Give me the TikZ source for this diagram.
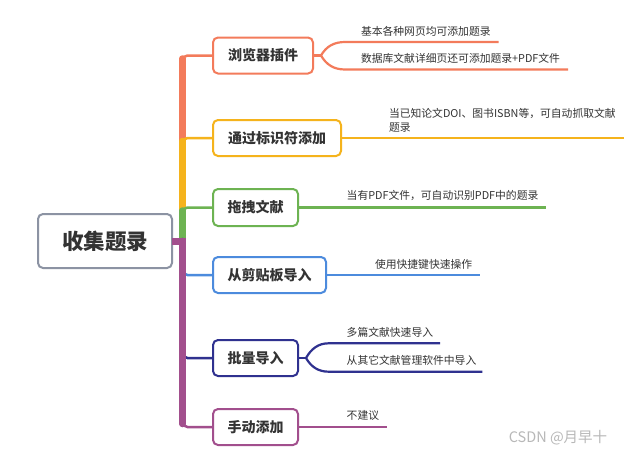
\documentclass[tikz,border=0pt]{standalone}
\usepackage{fontspec}
\setmainfont{Noto Sans CJK SC}
\usetikzlibrary{calc}
\definecolor{cA}{HTML}{F37B5B}
\definecolor{cB}{HTML}{F5B31C}
\definecolor{cC}{HTML}{6DB352}
\definecolor{cD}{HTML}{4C8BDD}
\definecolor{cE}{HTML}{2F318F}
\definecolor{cF}{HTML}{A24F8D}
\definecolor{cRoot}{HTML}{8C93A3}
\definecolor{txt}{HTML}{333333}
\definecolor{wmc}{HTML}{B8B8B8}
\begin{document}
\begin{tikzpicture}[x=1pt,y=-1pt,
 topic/.style={draw, line width=2pt, rounded corners=5pt, fill=white, inner sep=0pt, outer sep=0pt, text=txt, font=\bfseries\fontsize{14}{16}\selectfont, minimum height=36pt},
 sub/.style={anchor=west, inner sep=0pt, outer sep=0pt, text=txt, font=\fontsize{10.8}{14}\selectfont, align=left},
 thinbr/.style={line width=2.5pt, rounded corners=5pt},
 thickbr/.style={line width=6.5pt, line cap=round},
 subline/.style={line width=2.2pt}]
\useasboundingbox (0,0) rectangle (624,455);
\fill[white] (0,0) rectangle (624,455);

% main topics
\node[topic, draw=cRoot, minimum width=134pt, minimum height=54pt, font=\bfseries\fontsize{21.5}{24}\selectfont] (root) at (105,241) {收集题录};
\node[topic, draw=cA, minimum width=100pt] (n1) at (263,55.5) {浏览器插件};
\node[topic, draw=cB, minimum width=128pt] (n2) at (277,138) {通过标识符添加};
\node[topic, draw=cC, minimum width=85pt, minimum height=37pt] (n3) at (255.5,207.5) {拖拽文献};
\node[topic, draw=cD, minimum width=113pt] (n4) at (269.5,275) {从剪贴板导入};
\node[topic, draw=cE, minimum width=85pt] (n5) at (255.5,358) {批量导入};
\node[topic, draw=cF, minimum width=85pt] (n6) at (255.5,427) {手动添加};

% trunk and branches
\coordinate (trunk) at (182.5,241);
\draw[thickbr, cA] (trunk) -- ($(trunk |- n1.west)+(0,3)$);
\draw[thinbr, cA] (trunk) |- (n1.west);
\draw[thickbr, cB] (trunk) -- ($(trunk |- n2.west)+(0,3)$);
\draw[thinbr, cB] (trunk) |- (n2.west);
\draw[thickbr, cC] (trunk) -- ($(trunk |- n3.west)+(0,3)$);
\draw[thinbr, cC] (trunk) |- (n3.west);
\draw[thickbr, cD] (trunk) -- ($(trunk |- n4.west)+(0,-3)$);
\draw[thinbr, cD] (trunk) |- (n4.west);
\draw[thickbr, cE] (trunk) -- ($(trunk |- n5.west)+(0,-3)$);
\draw[thinbr, cE] (trunk) |- (n5.west);
\draw[thickbr, cF] (trunk) -- ($(trunk |- n6.west)+(0,-3)$);
\draw[thinbr, cF] (trunk) |- (n6.west);
\draw[line width=7pt, cF] (root.east) -- ([xshift=3.25pt]trunk);

% sub topics
\node[sub] (t1a) at (361,31) {基本各种网页均可添加题录};
\node[sub] (t1b) at (361,58) {数据库文献详细页还可添加题录+PDF文件};
\node[sub] (t2) at (389,120) {当已知论文DOI、图书ISBN等，可自动抓取文献\\题录};
\node[sub] (t3) at (346.7,196) {当有PDF文件，可自动识别PDF中的题录};
\node[sub] (t4) at (375,264) {使用快捷键快速操作};
\node[sub] (t5a) at (346.7,332.7) {多篇文献快速导入};
\node[sub] (t5b) at (346.7,360.7) {从其它文献管理软件中导入};
\node[sub] (t6) at (346.7,415) {不建议};

% sub lines
\coordinate (f1) at ([xshift=8pt]n1.east);
\draw[subline, cA] (n1.east) -- (f1);
\draw[subline, cA] (f1) to[out=60,in=180] ([xshift=-16pt,yshift=-11pt]t1a.west) -- ([xshift=8pt,yshift=-11pt]t1a.east);
\draw[subline, cA] (f1) to[out=-60,in=180] ([xshift=-16pt,yshift=-11.5pt]t1b.west) -- ([xshift=8pt,yshift=-11.5pt]t1b.east);

\coordinate (t2e) at ([xshift=8pt]t2.east);
\draw[subline, cB] (n2.east) -- (n2.east -| t2e);
\coordinate (t3e) at ([xshift=8pt]t3.east);
\draw[subline, cC] (n3.east) -- (n3.east -| t3e);
\coordinate (t4e) at ([xshift=8pt]t4.east);
\draw[subline, cD] (n4.east) -- (n4.east -| t4e);

\coordinate (f5) at ([xshift=8pt]n5.east);
\draw[subline, cE] (n5.east) -- (f5);
\draw[subline, cE] (f5) to[out=60,in=180] ([xshift=-18pt,yshift=-10.6pt]t5a.west) -- ([xshift=7pt,yshift=-10.6pt]t5a.east);
\draw[subline, cE] (f5) to[out=-60,in=180] ([xshift=-18pt,yshift=-11pt]t5b.west) -- ([xshift=6pt,yshift=-11pt]t5b.east);

\coordinate (t6e) at ([xshift=8pt]t6.east);
\draw[subline, cF] (n6.east) -- (n6.east -| t6e);

% watermark
\node[text=wmc, font=\fontsize{14.5}{16}\selectfont, inner sep=0pt] (wm) at (558,438) {CSDN @月早十};
\end{tikzpicture}
\end{document}
